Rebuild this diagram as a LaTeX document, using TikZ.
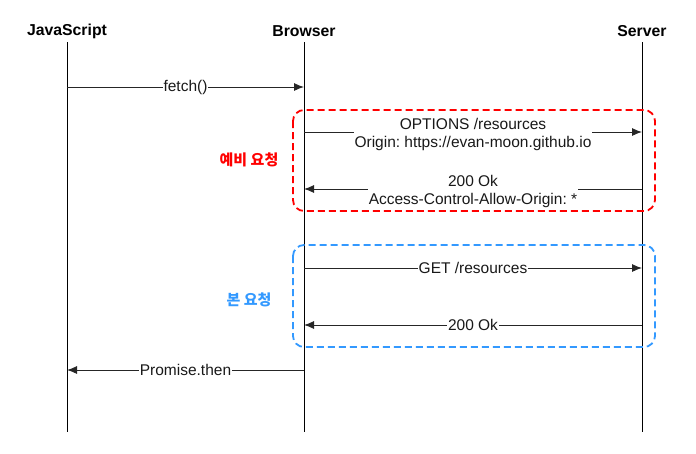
\documentclass[tikz,border=0pt]{standalone}
\usepackage{fontspec}
\setmainfont{Liberation Sans}
\newfontfamily\kofont{Noto Sans CJK KR}
\usetikzlibrary{arrows.meta}
\definecolor{redbox}{RGB}{255,0,0}
\definecolor{bluebox}{RGB}{51,153,255}
\frenchspacing
\begin{document}
\begin{tikzpicture}[x=1pt,y=-1pt,
  header/.style={font=\fontsize{15.8}{18}\selectfont\bfseries, anchor=center},
  lifeline/.style={line width=0.9pt, black},
  msg/.style={line width=0.9pt, black!85, -{Latex[length=10pt,width=8pt]}},
  msglabel/.style={fill=white, inner sep=1pt, font=\fontsize{15.5}{18}\selectfont, align=center, text=black!90},
  phase/.style={dashed, line width=1.8pt, dash pattern=on 7pt off 4pt, rounded corners=11pt},
  phaselabel/.style={font=\kofont\bfseries\fontsize{15}{18}\selectfont}
]
\useasboundingbox (0,0) rectangle (696,453);
% headers
\node[header] (js) at (67,31) {JavaScript};
\node[header] (br) at (304,31) {Browser};
\node[header] (sv) at (642,31) {Server};
% lifeline ends
\coordinate (jsT) at (67,42); \coordinate (jsB) at (67,432);
\coordinate (brT) at (304,42); \coordinate (brB) at (304,432);
\coordinate (svT) at (642,42); \coordinate (svB) at (642,432);
\draw[lifeline] (jsT) -- (jsB);
\draw[lifeline] (brT) -- (brB);
\draw[lifeline] (svT) -- (svB);
% phase boxes
\draw[phase, draw=redbox] (293,110) rectangle (655,211);
\draw[phase, draw=bluebox] (293,245) rectangle (655,347);
\node[phaselabel, text=redbox] (pre) at (249,160) {예비 요청};
\node[phaselabel, text=bluebox] (main) at (249,300) {본 요청};
% messages
\coordinate (a1) at (67,87); \coordinate (b1) at (304,87);
\draw[msg] (a1) -- node[msglabel]{fetch()} (b1);
\coordinate (a2) at (304,132); \coordinate (b2) at (642,132);
\draw[msg] (a2) -- node[msglabel, yshift=-2pt]{OPTIONS /resources\\Origin: https://evan-moon.github.io} (b2);
\coordinate (a3) at (642,189); \coordinate (b3) at (304,189);
\draw[msg] (a3) -- node[msglabel, yshift=-2pt]{200 Ok\\Access-Control-Allow-Origin: *} (b3);
\coordinate (a4) at (304,268); \coordinate (b4) at (642,268);
\draw[msg] (a4) -- node[msglabel]{GET /resources} (b4);
\coordinate (a5) at (642,325); \coordinate (b5) at (304,325);
\draw[msg] (a5) -- node[msglabel]{200 Ok} (b5);
\coordinate (a6) at (304,370); \coordinate (b6) at (67,370);
\draw[msg] (a6) -- node[msglabel]{Promise.then} (b6);
\end{tikzpicture}
\end{document}
